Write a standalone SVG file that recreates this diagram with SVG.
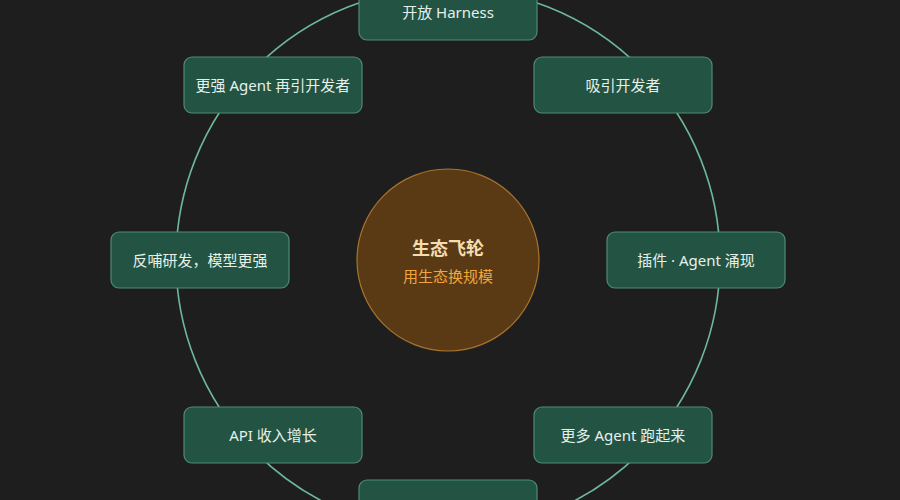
<svg xmlns="http://www.w3.org/2000/svg" width="900" height="500" viewBox="0 0 900 500">
<style>
.node rect{fill:#235443;stroke:#4f8c72;stroke-width:1.2}
.node text{font-family:"Noto Sans","Noto Sans CJK SC",sans-serif;font-size:15px;fill:#e6f0eb;text-anchor:middle;dominant-baseline:central}
.ring{fill:none;stroke:#6cb89a;stroke-width:1.6}
</style>
<rect width="900" height="500" fill="#1e1e1e"/>
<g id="connectors">
<circle class="ring" cx="448" cy="260" r="272"/>
</g>
<g id="center">
<circle cx="448" cy="260" r="91" fill="#5a3a15" stroke="#a87430" stroke-width="1.2"/>
<text x="448" y="247" font-family="'Noto Sans CJK SC',sans-serif" font-size="18" font-weight="bold" fill="#f5dcae" text-anchor="middle" dominant-baseline="central">生态飞轮</text>
<text x="448" y="275" font-family="'Noto Sans CJK SC',sans-serif" font-size="15" fill="#f0a53e" text-anchor="middle" dominant-baseline="central">用生态换规模</text>
</g>
<g id="n1" class="node"><rect x="359" y="-16" width="178" height="56" rx="8"/><text x="448" y="12">开放 Harness</text></g>
<g id="n2" class="node"><rect x="534" y="57" width="178" height="56" rx="8"/><text x="623" y="85">吸引开发者</text></g>
<g id="n3" class="node"><rect x="607" y="232" width="178" height="56" rx="8"/><text x="696" y="260">插件 · Agent 涌现</text></g>
<g id="n4" class="node"><rect x="534" y="407" width="178" height="56" rx="8"/><text x="623" y="435">更多 Agent 跑起来</text></g>
<g id="n5" class="node"><rect x="359" y="480" width="178" height="56" rx="8"/></g>
<g id="n6" class="node"><rect x="184" y="407" width="178" height="56" rx="8"/><text x="273" y="435">API 收入增长</text></g>
<g id="n7" class="node"><rect x="111" y="232" width="178" height="56" rx="8"/><text x="200" y="260">反哺研发，模型更强</text></g>
<g id="n8" class="node"><rect x="184" y="57" width="178" height="56" rx="8"/><text x="273" y="85">更强 Agent 再引开发者</text></g>
</svg>
